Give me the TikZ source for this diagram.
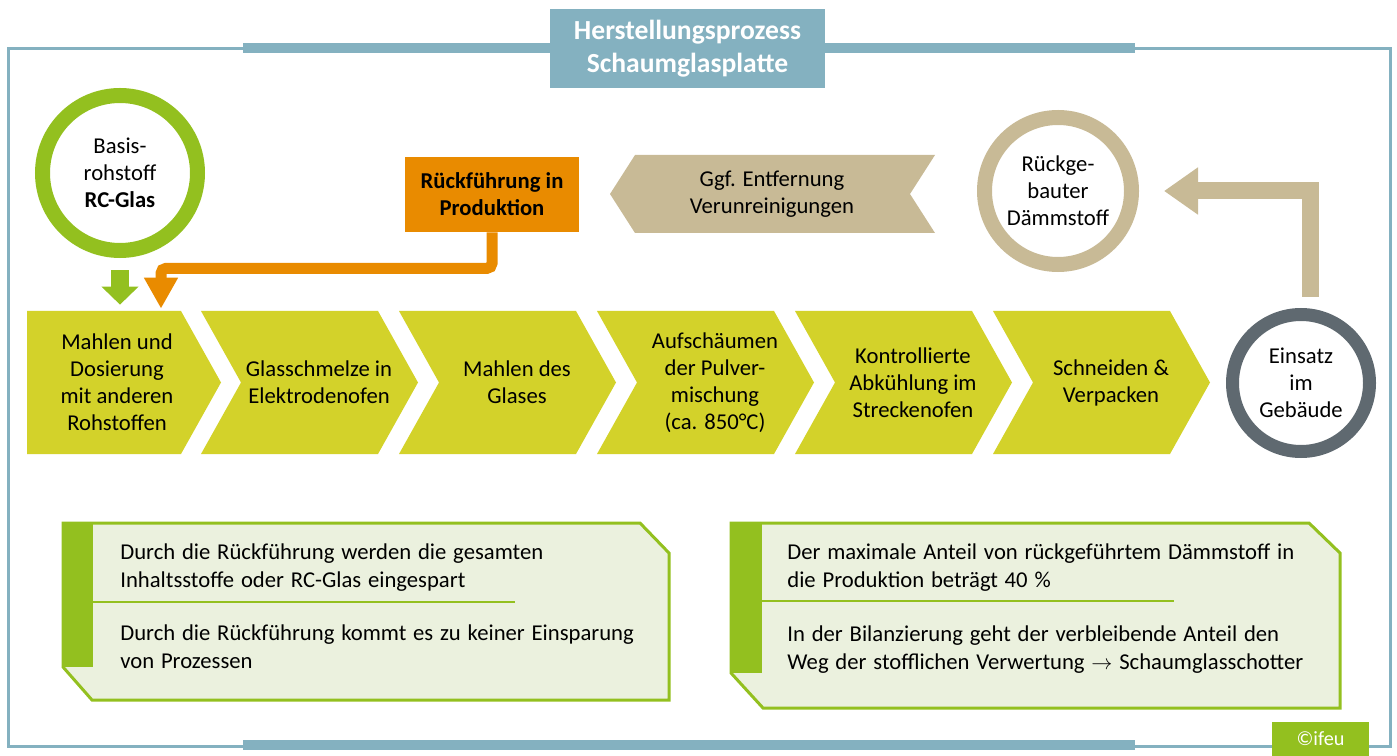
\documentclass[tikz,border=0pt]{standalone}
\usepackage{fontspec}
\setmainfont{Carlito}
\usepackage{tikz}
\usetikzlibrary{arrows.meta, positioning}
\definecolor{ifblue}{RGB}{132,177,192}
\definecolor{ifgreen}{RGB}{147,192,31}
\definecolor{ifchev}{RGB}{211,210,42}
\definecolor{iforange}{RGB}{233,139,0}
\definecolor{iftan}{RGB}{200,186,150}
\definecolor{ifgray}{RGB}{95,105,112}
\definecolor{ifnote}{RGB}{235,241,222}
\newcommand{\bodyfont}{\fontsize{12.9}{15.4}\selectfont}
\newcommand{\notefont}{\fontsize{12.9}{15.4}\selectfont\spaceskip=0.3em plus 0.1em\relax}

\tikzset{
  txt/.style={font=\bodyfont, align=center, inner sep=0pt},
  ring/.style={circle, draw=#1, line width=3mm, align=center, inner sep=0pt, font=\bodyfont},
  frame/.style={ifblue, line width=0.6mm},
  bar/.style={ifblue, line width=2mm},
  notebox/.style={fill=ifnote, draw=ifgreen, line width=0.6mm, line join=miter},
  notetext/.style={font=\notefont, align=left, anchor=base west, inner sep=0pt}
}

\begin{document}
\begin{tikzpicture}[x=0.2mm, y=-0.2mm]
\useasboundingbox (0,0) rectangle (1397,756);

% Title and frame
\node[fill=ifblue, text=white, minimum width=55mm, minimum height=15.8mm, align=center, inner sep=0pt,
      font=\fontsize{15.7}{18.5}\selectfont\bfseries] (title) at (687.5,48.5) {Herstellungsprozess\\Schaumglasplatte};
\node[fill=ifgreen, text=white, minimum width=19.4mm, minimum height=6.8mm, inner sep=0pt,
      font=\fontsize{11.5}{14}\selectfont] (ifeu) at (1320.5,739) {©ifeu};
\draw[frame] (243,49) -- (8,49) -- (8,746) -- (243,746);
\draw[frame] (1135,49) -- (1390,49) -- (1390,746) -- (1369,746);
\draw[frame] (1135,746) -- (1272,746);
\draw[bar] (243,48.5) -- (title.west);
\draw[bar] (title.east) -- (1135,48.5);
\draw[bar] (243,745) -- (1135,745);

% Upper row
\node[ring=ifgreen, minimum size=31mm] (basis) at (120,173) {Basis-\\rohstoff\\\textbf{RC-Glas}};
\node[fill=iforange, minimum width=34.8mm, minimum height=15mm, align=center, inner sep=0pt,
      font=\bodyfont\bfseries] (rueck) at (492,194.5) {Rückführung in\\Produktion};
\fill[iftan] (935,155) -- (635,155) -- (610,194) -- (635,233) -- (935,233) -- (910,194) -- cycle;
\node[txt] (entf) at (772,194) {Ggf. Entfernung\\Verunreinigungen};
\node[ring=iftan, minimum size=29.4mm] (rueckbau) at (1058,191) {Rückge-\\bauter\\Dämmstoff};
\node[ring=ifgray, line width=2.6mm, minimum size=27.4mm] (einsatz) at (1301,383) {Einsatz\\im\\Gebäude};

% Process chevrons
\foreach \i/\txt in {1/{Mahlen und\\Dosierung\\mit anderen\\Rohstoffen},
                     2/{Glasschmelze in\\Elektrodenofen},
                     3/{Mahlen des\\Glases},
                     4/{Aufschäumen\\der Pulver-\\mischung\\(ca. 850°C)},
                     5/{Kontrollierte\\Abkühlung im\\Streckenofen},
                     6/{Schneiden \&\\Verpacken}} {
    \pgfmathsetmacro{\lft}{\i==1 ? 27 : 201+198*(\i-2)}
    \pgfmathsetmacro{\rgt}{\i==1 ? 181 : \lft+177}
    \pgfmathsetmacro{\ntch}{\i==1 ? 0 : 40}
    \pgfmathsetmacro{\cx}{\i==1 ? 117 : \lft+118}
    \fill[ifchev] (\lft,311) -- (\rgt,311) -- (\rgt+40,382.5) -- (\rgt,454) -- (\lft,454) -- (\lft+\ntch,382.5) -- cycle;
    \node[txt, minimum height=28.6mm] (m\i) at (\cx,382.5) {\txt};
}

% Arrows
\draw[ifgreen, line width=3.6mm, -{Triangle[width=7.2mm,length=3.6mm]}, shorten <=2.4mm, shorten >=1.2mm]
    (basis.south) -- (basis.south |- m1.north);
\draw[iforange, line width=2.2mm, rounded corners=1mm, -{Triangle[width=6.4mm,length=6.2mm]}, shorten >=0.4mm]
    (rueck.south) -- ++(0,36) -| ([xshift=8.8mm]m1.north);
\draw[iftan, line width=3.4mm, -{Triangle[width=9mm,length=6.8mm]}, shorten <=2.2mm, shorten >=5mm]
    ([xshift=1.8mm]einsatz.north) |- (rueckbau.east);

% Notes
\filldraw[notebox] (63,523) -- (640,523) -- (669,553) -- (669,700) -- (92,700) -- (63,667) -- cycle;
\fill[ifgreen] (63,523) rectangle (93,667);
\draw[ifgreen, line width=0.4mm] (93,602) -- (515,602);
\node[notetext] (n1a) at (120,587) {Durch die Rückführung werden die gesamten\\Inhaltsstoffe oder RC-Glas eingespart};
\node[notetext] (n1b) at (120,668) {Durch die Rückführung kommt es zu keiner Einsparung\\von Prozessen};

\filldraw[notebox] (731,523) -- (1309,523) -- (1340,553) -- (1340,708) -- (763,708) -- (731,673) -- cycle;
\fill[ifgreen] (731,523) rectangle (762,673);
\draw[ifgreen, line width=0.4mm] (762,601) -- (1174,601);
\node[notetext] (n2a) at (787,587) {Der maximale Anteil von rückgeführtem Dämmstoff in\\die Produktion beträgt 40 \%};
\node[notetext] (n2b) at (787,669) {In der Bilanzierung geht der verbleibende Anteil den\\Weg der stofflichen Verwertung $\rightarrow$ Schaumglasschotter};
\end{tikzpicture}
\end{document}
